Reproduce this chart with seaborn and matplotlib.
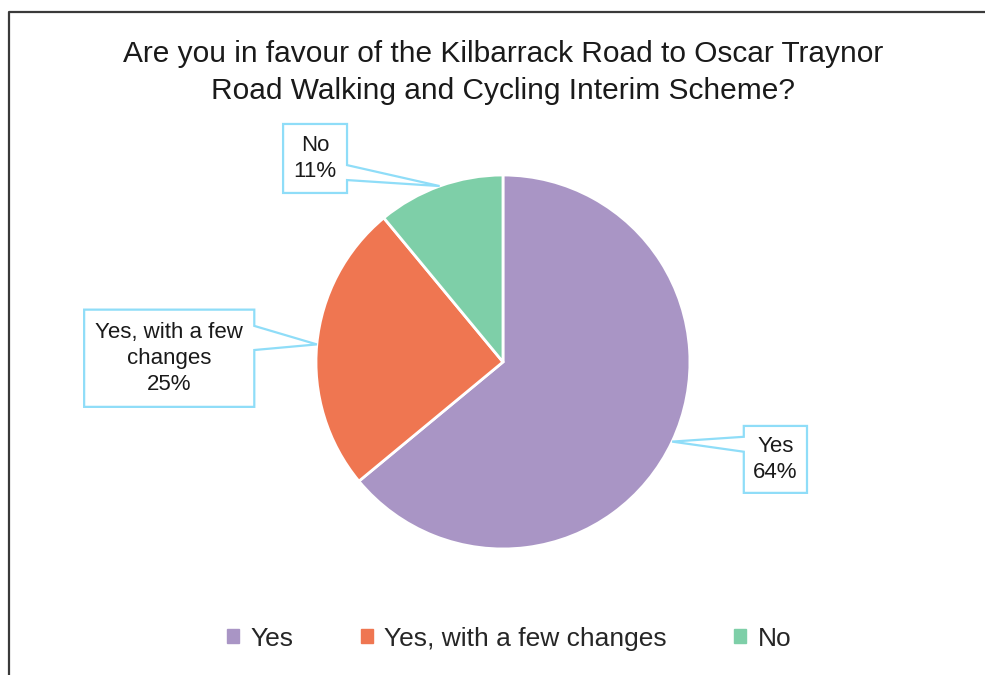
import matplotlib
matplotlib.use("Agg")
import matplotlib.pyplot as plt
import matplotlib.patches as mpatches
import matplotlib.lines as mlines
import numpy as np
import seaborn as sns

# data
labels = ["Yes", "Yes, with a few changes", "No"]
box_labels = ["Yes\n64%", "Yes, with a few\nchanges\n25%", "No\n11%"]
shares = [64, 25, 11]
colors = ["#A995C5", "#EF7651", "#7ECFA8"]
title = "Are you in favour of the Kilbarrack Road to Oscar Traynor\nRoad Walking and Cycling Interim Scheme?"

sns.set_theme(style="white")
plt.rcParams['font.family'] = ['Liberation Sans', 'DejaVu Sans']

fig = plt.figure(figsize=(9.85, 6.75), dpi=100)
ax = fig.add_axes([0, 0, 1, 1])

wedges, _ = ax.pie(shares, colors=colors, startangle=90, counterclock=False,
                   radius=1, center=(0, 0),
                   wedgeprops=dict(edgecolor="white", linewidth=2))
ax.set_xlim(-2.690, 2.578)
ax.set_ylim(-1.674, 1.936)
ax.set_aspect("equal")
ax.axis("off")

# callout boxes: (x0, x1, y0, y1) of box, side the pointer leaves from, pointer y span
boxes = [(1.288, 1.626, -0.70, -0.342, "left", -0.40, -0.48),
         (-2.24, -1.33, -0.24, 0.28, "right", 0.193, 0.064),
         (-1.176, -0.834, 0.904, 1.273, "right", 1.053, 0.973)]
edge = "#8FDDF8"
for w, txt, (x0, x1, y0, y1, side, p0, p1) in zip(wedges, box_labels, boxes):
    mid = np.deg2rad((w.theta1 + w.theta2) / 2)
    tip = (np.cos(mid), np.sin(mid))
    if side == "right":
        verts = [(x0, y0), (x0, y1), (x1, y1), (x1, p0), tip, (x1, p1), (x1, y0)]
    else:
        verts = [(x0, y0), (x1, y0), (x1, y1), (x0, y1), (x0, p0), tip, (x0, p1)]
    ax.add_patch(mpatches.Polygon(verts, closed=True, facecolor="white",
                                  edgecolor=edge, linewidth=1.6, zorder=5))
    ax.text((x0 + x1) / 2, (y0 + y1) / 2, txt, ha="center", va="center",
            fontsize=16, color="#1a1a1a", linespacing=1.3, zorder=6)

fig.text(0.511, 0.8926, title, ha="center", va="center", fontsize=21.5,
         color="#1a1a1a", linespacing=1.45)

handles = [mpatches.Patch(color=c, label=l) for c, l in zip(colors, labels)]
fig.legend(handles=handles, loc="center", bbox_to_anchor=(0.517, 0.054), ncol=3,
           frameon=False, fontsize=19, handlelength=0.45, handleheight=0.45,
           handletextpad=0.45, columnspacing=2.55)

# chart frame (left and top edges visible)
fig.add_artist(mlines.Line2D([9 / 985, 9 / 985, 1], [0, 1 - 12 / 675, 1 - 12 / 675],
                             transform=fig.transFigure, color="#3a3a3a", linewidth=1.6))

fig.savefig("out.png", dpi=100)
